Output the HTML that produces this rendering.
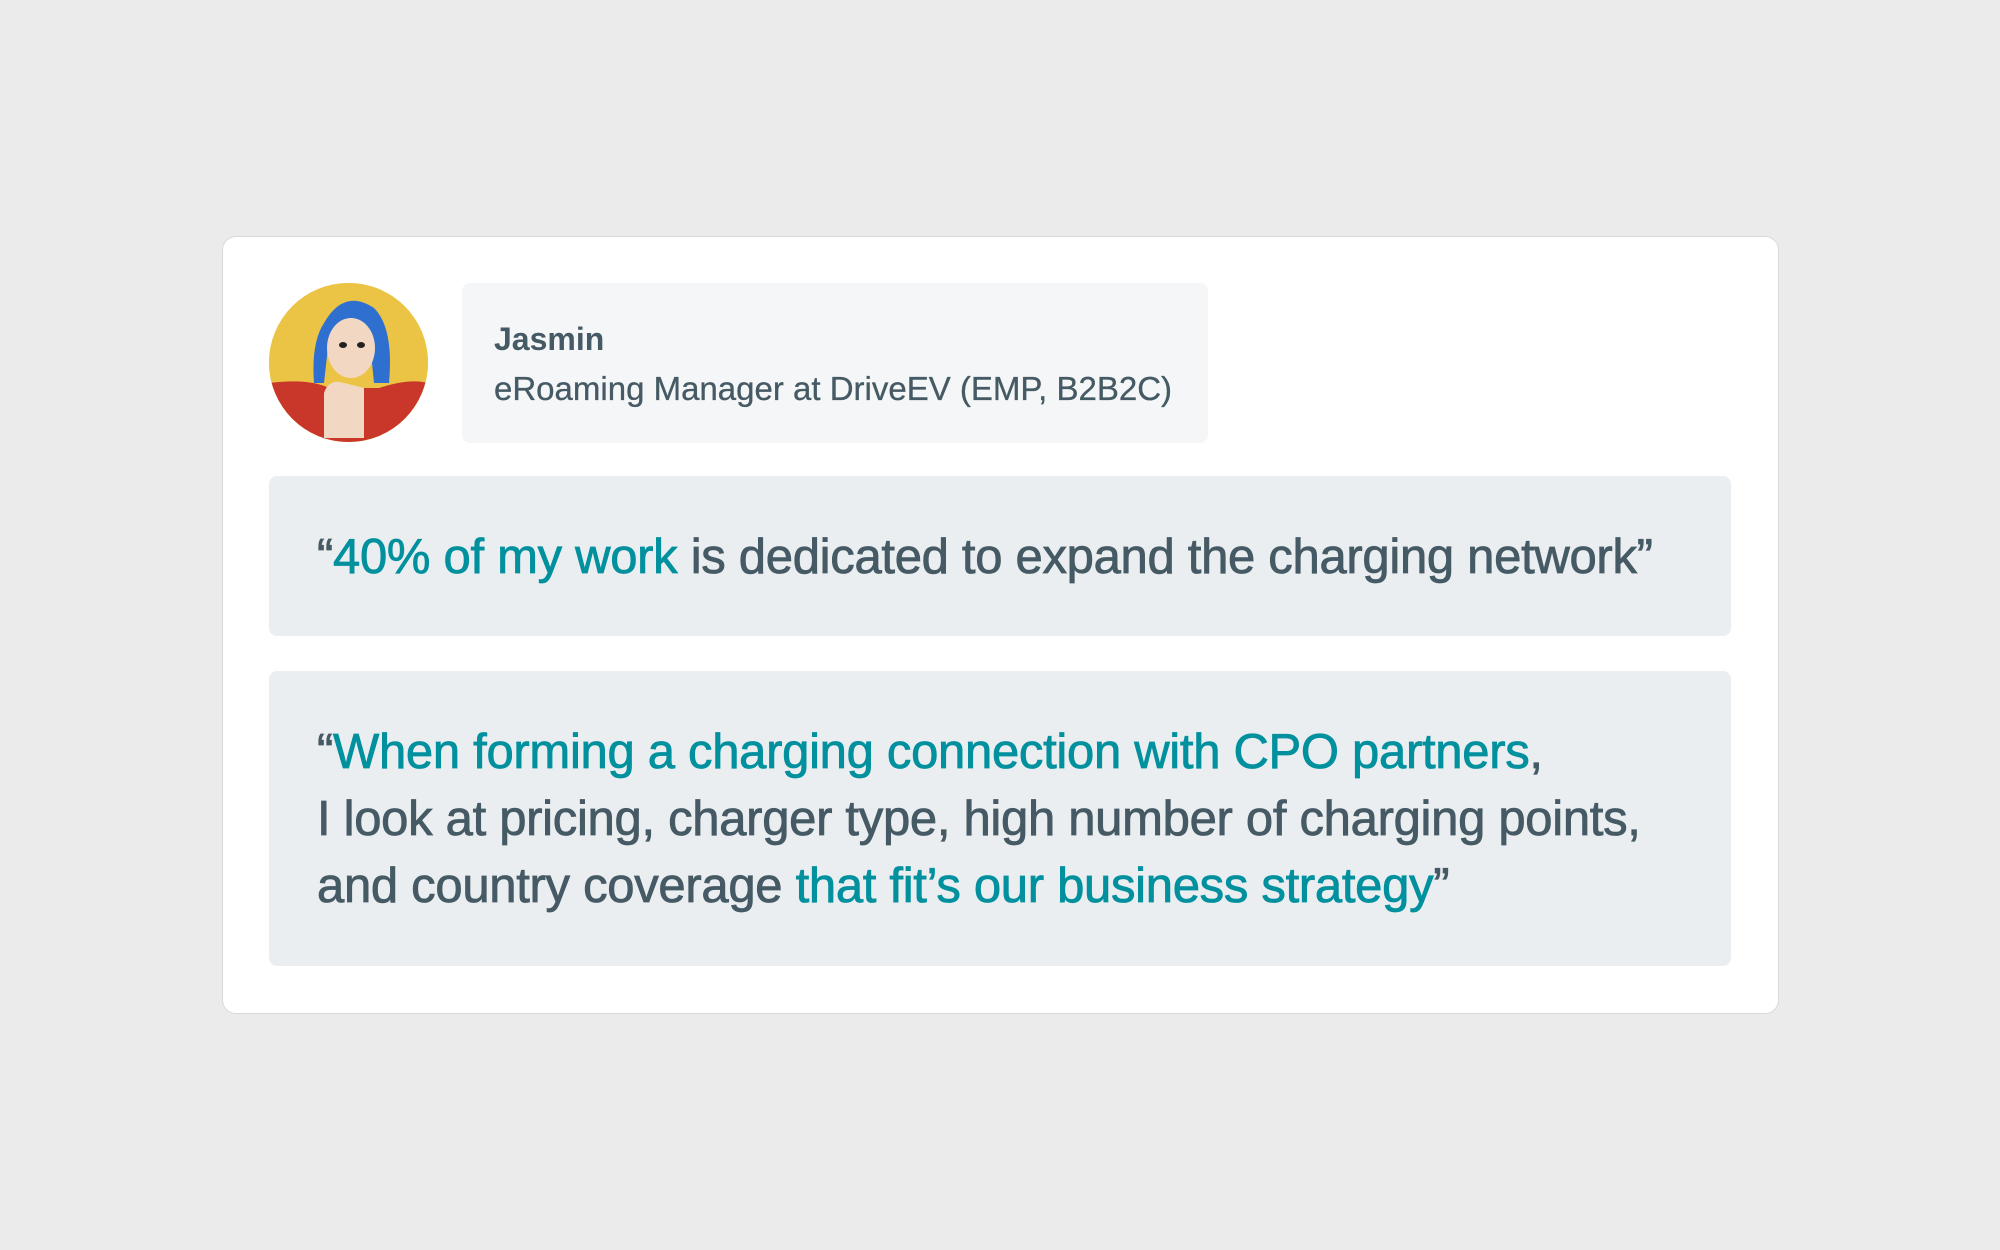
<!DOCTYPE html>
<html><head><meta charset="utf-8"><style>
html,body{margin:0;padding:0;width:2000px;height:1250px;background:#ebebeb;overflow:hidden;font-family:"Liberation Sans",sans-serif;}
.card{position:absolute;left:222px;top:236px;width:1557px;height:778px;background:#fff;border:1px solid #d9d9d9;border-radius:14px;box-sizing:border-box;}
.av{position:absolute;left:269px;top:283px;width:159px;height:159px;border-radius:50%;overflow:hidden;background:#ecc445;}
.name{position:absolute;left:462px;top:283px;width:746px;height:160px;background:#f4f6f7;border-radius:8px;color:#455a64;}
.q{position:absolute;left:269px;width:1462px;background:#ebeef0;border-radius:8px;color:#455a64;font-size:49px;box-sizing:border-box;padding-left:48px;letter-spacing:-0.3px;-webkit-text-stroke:0.8px currentColor;}
.t{color:#00909e;}
</style></head><body>
<div class="card"></div>
<div class="av"><svg width="159" height="159" viewBox="0 0 159 159">
<rect width="159" height="159" fill="#ecc445"/>
<path d="M0 100 Q40 95 60 105 L110 105 Q140 95 159 100 L159 159 L0 159Z" fill="#c9362a"/>
<path d="M55 40 Q75 5 105 25 Q125 45 120 100 L105 100 L100 50 L60 55 L55 100 L45 100 Q42 60 55 40Z" fill="#2f6fd0"/>
<ellipse cx="82" cy="65" rx="24" ry="30" fill="#f2d8c2"/>
<ellipse cx="74" cy="62" rx="4" ry="3" fill="#222"/><ellipse cx="92" cy="62" rx="4" ry="3" fill="#222"/>
<path d="M55 155 L55 110 Q60 95 75 100 L95 105 L95 155Z" fill="#f2d8c2"/>
</svg></div>
<div class="name">
<div style="position:absolute;left:32px;top:38px;font-size:32px;font-weight:bold;">Jasmin</div>
<div style="position:absolute;left:32px;top:87px;font-size:33px;-webkit-text-stroke:0.3px currentColor;">eRoaming Manager at DriveEV (EMP, B2B2C)</div>
</div>
<div class="q" style="top:476px;height:160px;line-height:162px;">“<span class="t">40% of my work</span> is dedicated to expand the charging network”</div>
<div class="q" style="top:671px;height:295px;padding-top:48px;line-height:67px;">“<span class="t">When forming a charging connection with CPO partners</span>,<br>I look at pricing, charger type, high number of charging points,<br>and country coverage <span class="t">that fit’s our business strategy</span>”</div>
</body></html>
